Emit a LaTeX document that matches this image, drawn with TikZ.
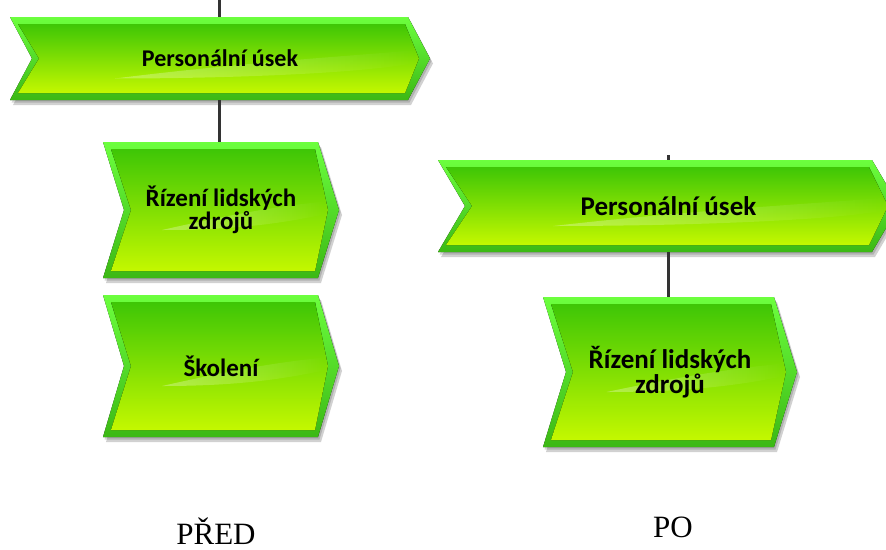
\documentclass[tikz,border=0pt]{standalone}
\usepackage{fontspec}
\setmainfont{Liberation Serif}
\newfontfamily\boxfont{Carlito}
\usetikzlibrary{fadings}
\definecolor{frameTop}{HTML}{6CFF3E}
\definecolor{frameBot}{HTML}{3CB814}
\definecolor{faceTop}{HTML}{3EC606}
\definecolor{faceBot}{HTML}{C4F800}
\definecolor{connGray}{HTML}{333333}
\tikzset{
  chevtext/.style={shape=rectangle, inner sep=0pt, align=center, text=black},
  conn/.style={draw=connGray, line width=3pt},
  caption/.style={anchor=base, font=\fontsize{31}{33}\selectfont, text=black}
}
% #1 name, #2 left x, #3 top y, #4 tip x, #5 bottom y, #6 depth, #7 font size, #8 text
\newcommand\mychev[8]{%
  \pgfmathsetmacro\chM{(#3+#5)/2}%
  \pgfmathsetmacro\chS{#4-#6}%
  \pgfmathsetmacro\chW{#4-#2}%
  \pgfmathsetmacro\chH{#5-#3}%
  \pgfmathsetmacro\chB{#7*0.93}%
  \begin{scope}[shift={(3,5)}]
    \fill[black, opacity=.18] (#2,#3) -- (\chS,#3) -- (#4,\chM) -- (\chS,#5) -- (#2,#5) -- ({#2+#6},\chM) -- cycle;
  \end{scope}
  \begin{scope}[shift={(1.5,2.5)}]
    \fill[black, opacity=.15] (#2,#3) -- (\chS,#3) -- (#4,\chM) -- (\chS,#5) -- (#2,#5) -- ({#2+#6},\chM) -- cycle;
  \end{scope}
  \fill[top color=frameTop, bottom color=frameBot] (#2,#3) -- (\chS,#3) -- (#4,\chM) -- (\chS,#5) -- (#2,#5) -- ({#2+#6},\chM) -- cycle;
  \fill[top color=faceTop, bottom color=faceBot] ({#2+8},{#3+7}) -- ({\chS-3},{#3+7}) -- ({#4-11},\chM) -- ({\chS-3},{#5-7}) -- ({#2+8},{#5-7}) -- ({#2+#6+7},\chM) -- cycle;
  \fill[white, opacity=.3, path fading=east] ({#2+0.25*\chW},{\chM+20}) .. controls ({#2+0.55*\chW},{\chM+4}) and ({#4-60},{\chM-4}) .. ({#4-18},{\chM-8}) -- ({#4-13},{\chM+4}) .. controls ({#4-60},{\chM+14}) and ({#2+0.55*\chW},{\chM+20}) .. cycle;
  \node[chevtext, minimum width=\chW pt, minimum height=\chH pt, font=\boxfont\bfseries\fontsize{#7}{\chB}\selectfont] (#1) at ({(#2+#4)/2},\chM) {#8};
}
\begin{document}
\begin{tikzpicture}[x=1pt, y=-1pt]
  \useasboundingbox (0,0) rectangle (886,549);
  \fill[white] (0,0) rectangle (886,549);
  \coordinate (topL) at (219,0);
  \coordinate (topR) at (668,155);
  \mychev{lt}{10}{17}{430}{100}{22}{24}{Personální úsek}
  \mychev{lm}{103}{142}{339}{278}{21}{25}{Řízení lidských\\zdrojů}
  \mychev{ls}{103}{295}{339}{437}{21}{25}{Školení}
  \mychev{rt}{438}{160}{899}{252}{27}{27}{Personální úsek}
  \mychev{rb}{543}{297}{797}{447}{23}{27}{Řízení lidských\\zdrojů}
  \draw[conn] (topL) -- (topL |- lt.north);
  \draw[conn] (topL |- lt.south) -- (topL |- lm.north);
  \draw[conn] (topR) -- (topR |- rt.north);
  \draw[conn] (topR |- rt.south) -- (topR |- rb.north);
  \node[caption] (pred) at (216,544) {PŘED};
  \node[caption] (po) at (673,537) {PO};
\end{tikzpicture}
\end{document}
